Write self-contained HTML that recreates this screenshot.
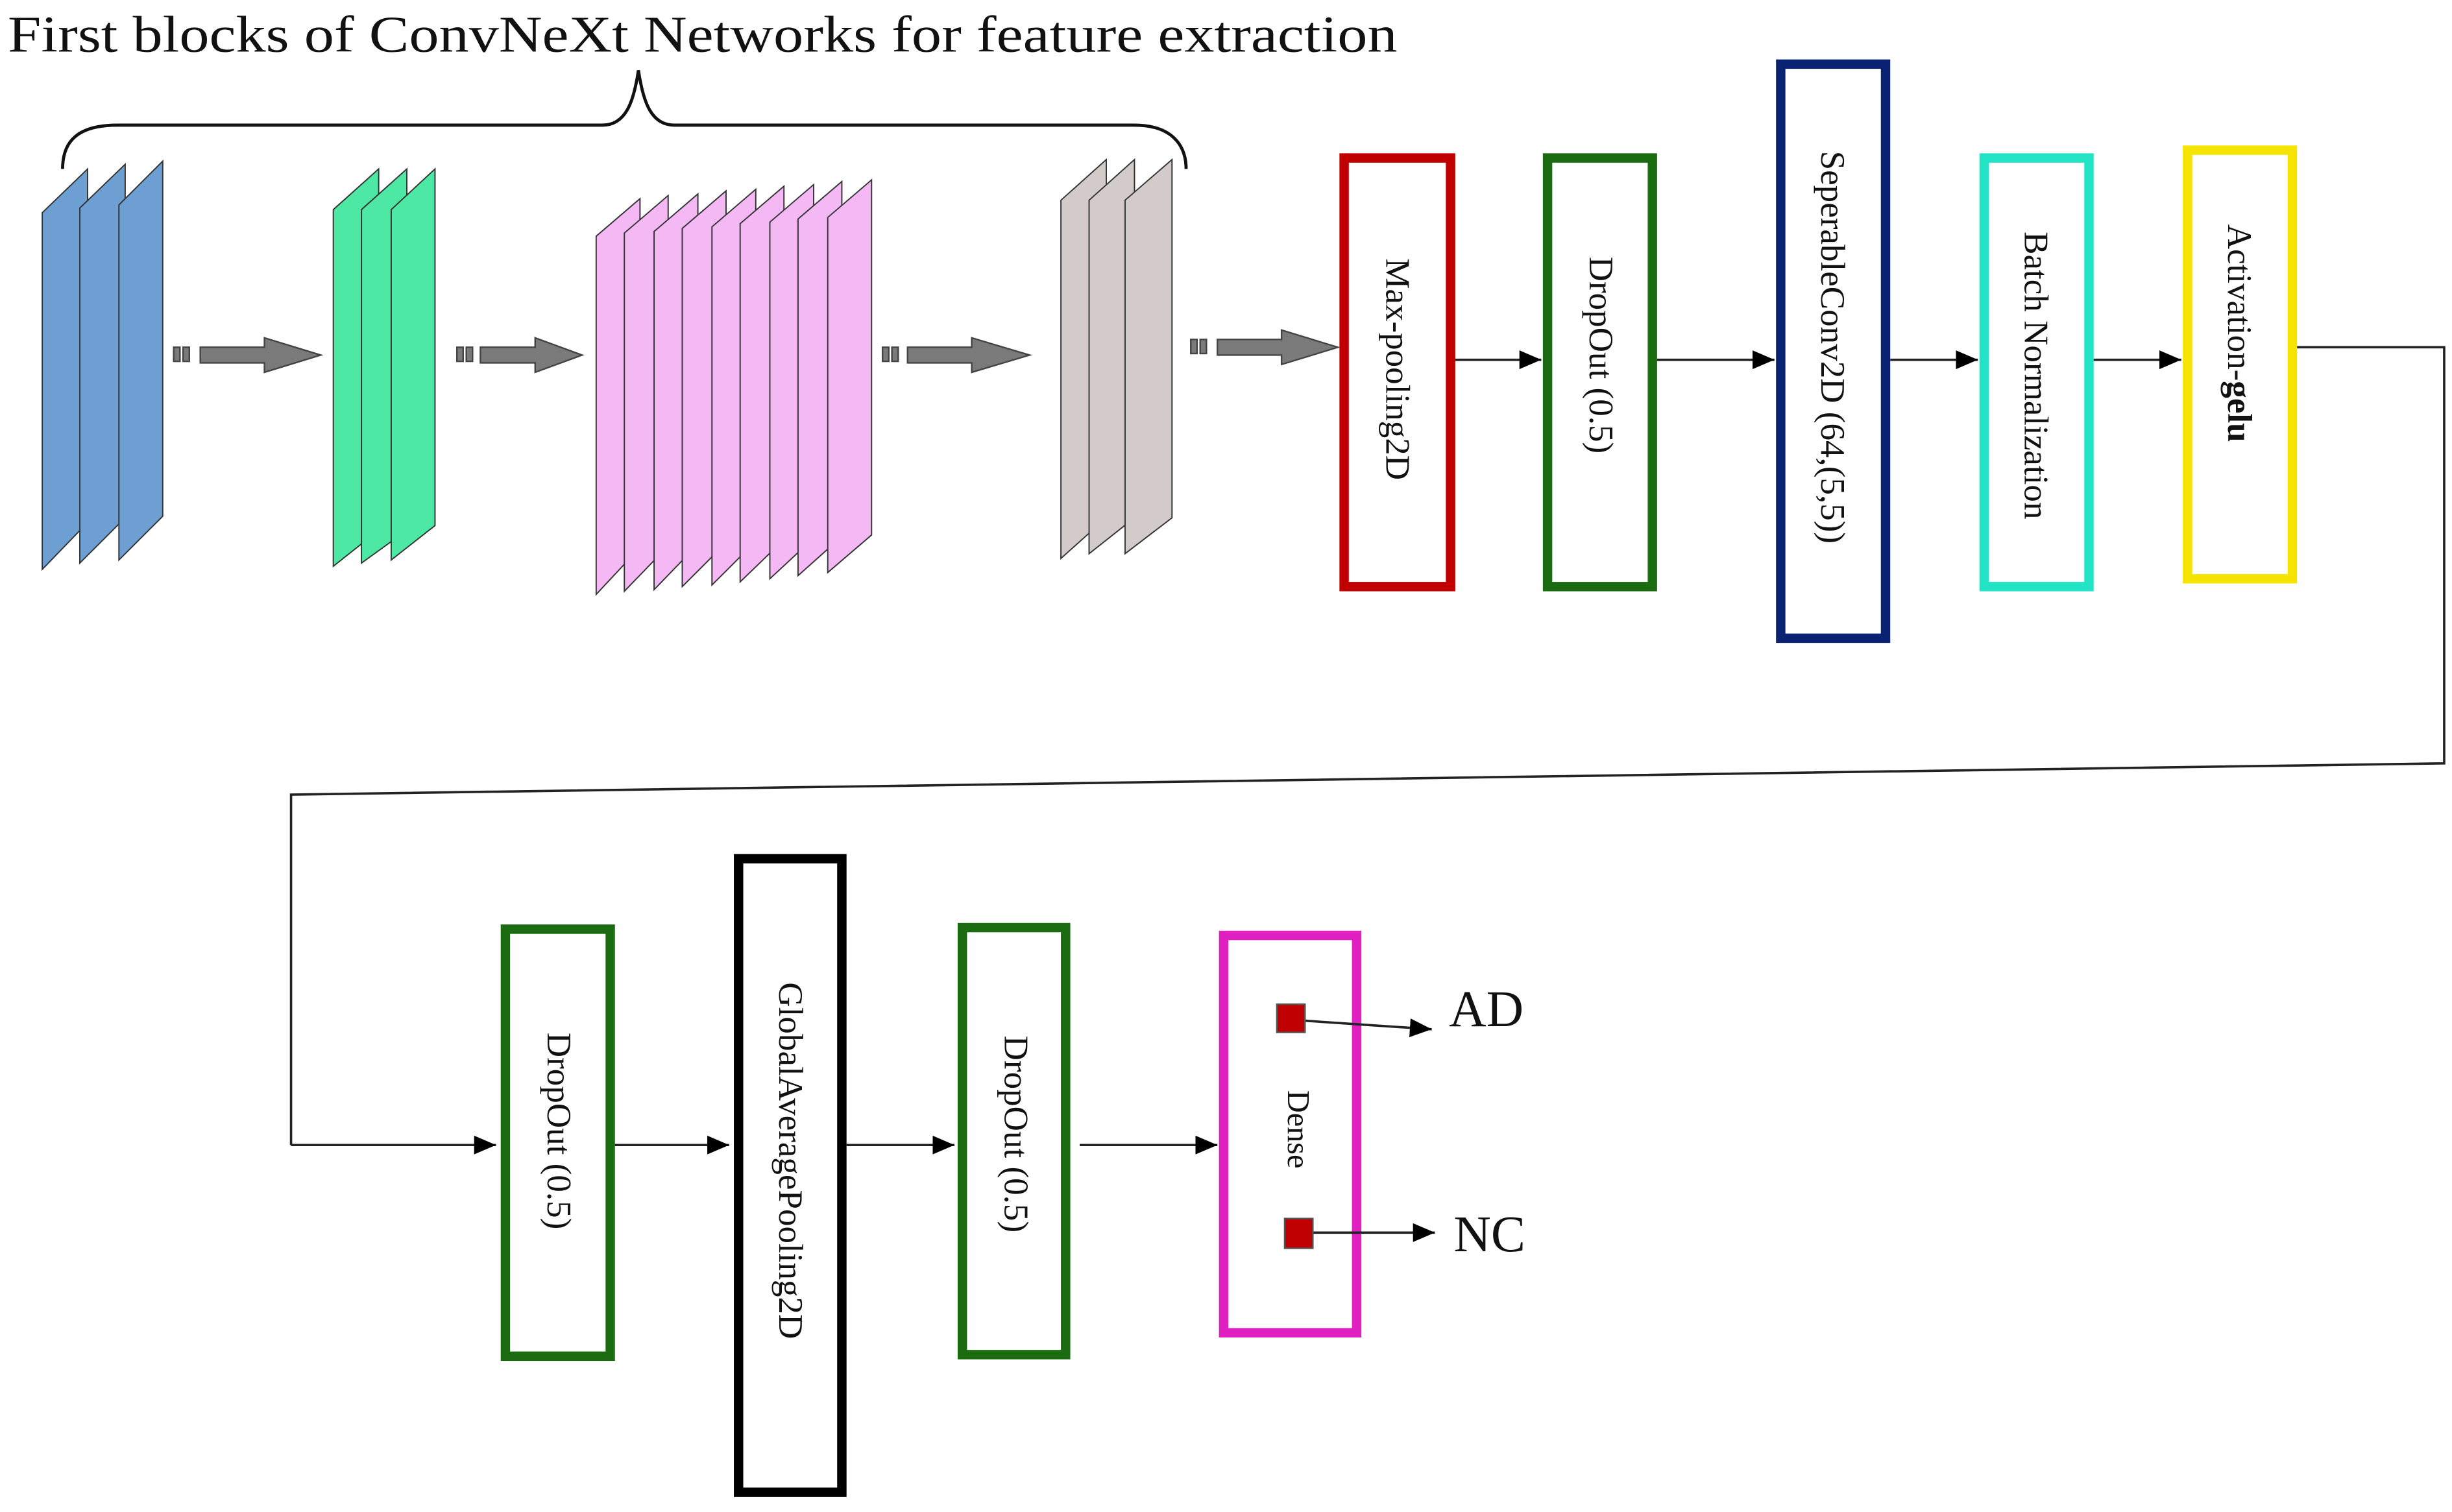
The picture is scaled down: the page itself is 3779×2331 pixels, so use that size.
<!DOCTYPE html>
<html><head><meta charset="utf-8"><style>
html,body{margin:0;padding:0;background:#fff}
svg{display:block}
.t{font-family:"Liberation Serif",serif;font-size:22px;fill:#111}
</style></head><body>
<svg width="3779" height="2331" viewBox="0 0 1567 966.6" preserveAspectRatio="none" xmlns="http://www.w3.org/2000/svg">
<defs>
<marker id="a2" viewBox="0 0 14 12" markerWidth="14" markerHeight="12" refX="14" refY="6" orient="auto" markerUnits="userSpaceOnUse"><path d="M0,0 L14,6 L0,12 z" fill="#000"/></marker>
</defs>
<text x="5" y="33" font-family="Liberation Serif, serif" font-size="33" fill="#111" textLength="888" lengthAdjust="spacingAndGlyphs">First blocks of ConvNeXt Networks for feature extraction</text>
<path d="M40,108 C40,90 50,80 75,80 L385,80 C400,80 405,65 408,45 C411,65 416,80 431,80 L725,80 C748,80 758,92 758,108" fill="none" stroke="#111" stroke-width="2"/>
<g stroke="#333" stroke-width="0.8">
<path d="M27,136 L56,108 L56,334 L27,364 z" fill="#6e9fd2"/>
<path d="M51,133 L80,105 L80,331 L51,360 z" fill="#6e9fd2"/>
<path d="M76,131 L104,103 L104,330 L76,358 z" fill="#6e9fd2"/>
<path d="M213,134 L242,108 L242,339 L213,362 z" fill="#4de8a4"/>
<path d="M231,134 L260,108 L260,339 L231,360 z" fill="#4de8a4"/>
<path d="M250,134 L278,108 L278,336 L250,358 z" fill="#4de8a4"/>
<path d="M381,151 L409,127 L409,350 L381,380 z" fill="#f4b8f4"/>
<path d="M399,149 L427,125 L427,349 L399,378 z" fill="#f4b8f4"/>
<path d="M418,148 L446,124 L446,348 L418,377 z" fill="#f4b8f4"/>
<path d="M436,146 L464,122 L464,347 L436,375 z" fill="#f4b8f4"/>
<path d="M455,145 L483,121 L483,346 L455,374 z" fill="#f4b8f4"/>
<path d="M473,143 L501,119 L501,345 L473,372 z" fill="#f4b8f4"/>
<path d="M492,142 L520,118 L520,344 L492,370 z" fill="#f4b8f4"/>
<path d="M510,140 L538,116 L538,343 L510,368 z" fill="#f4b8f4"/>
<path d="M529,139 L557,115 L557,342 L529,366 z" fill="#f4b8f4"/>
<path d="M678,128 L707,102 L707,331 L678,357 z" fill="#d3cbc9"/>
<path d="M696,128 L725,102 L725,331 L696,354 z" fill="#d3cbc9"/>
<path d="M719,128 L749,102 L749,331 L719,354 z" fill="#d3cbc9"/>
</g>
<g fill="#7a7a7a" stroke="#444" stroke-width="1">
<rect x="111" y="222" width="4" height="9"/><rect x="117" y="222" width="4" height="9"/>
<path d="M128,222 L169,222 L169,216 L205,227 L169,238 L169,232 L128,232 z"/>
<rect x="292" y="222" width="4" height="9"/><rect x="298" y="222" width="4" height="9"/>
<path d="M307,222 L342,222 L342,216 L372,227 L342,238 L342,232 L307,232 z"/>
<rect x="564" y="222" width="4" height="9"/><rect x="570" y="222" width="4" height="9"/>
<path d="M580,222 L621,222 L621,216 L658,227 L621,238 L621,232 L580,232 z"/>
<rect x="761" y="217" width="4" height="9"/><rect x="767" y="217" width="4" height="9"/>
<path d="M778,217 L819,217 L819,211 L855,222 L819,233 L819,227 L778,227 z"/>
</g>
<g fill="#fff" stroke-width="6">
<rect x="859" y="101" width="68" height="274" stroke="#c00000"/>
<rect x="989" y="101" width="67" height="274" stroke="#1b6b10"/>
<rect x="1138" y="41" width="67" height="367" stroke="#0a2272"/>
<rect x="1268" y="101" width="67" height="274" stroke="#22e4c4"/>
<rect x="1398" y="96" width="67" height="274" stroke="#f5e400"/>
<rect x="323" y="594" width="67" height="273" stroke="#1b6b10"/>
<rect x="472" y="549" width="66" height="405" stroke="#000"/>
<rect x="615" y="593" width="66" height="273" stroke="#1b6b10"/>
<rect x="782" y="598" width="85" height="254" stroke="#e020c0"/>
</g>
<g stroke="#222" stroke-width="1.5" fill="none">
<line x1="930" y1="230" x2="985" y2="230" marker-end="url(#a2)"/>
<line x1="1059" y1="230" x2="1134" y2="230" marker-end="url(#a2)"/>
<line x1="1208" y1="230" x2="1264" y2="230" marker-end="url(#a2)"/>
<line x1="1338" y1="230" x2="1394" y2="230" marker-end="url(#a2)"/>
<polyline points="1468,222 1562,222 1562,488 186,508 186,732"/>
<line x1="186" y1="732" x2="317" y2="732" marker-end="url(#a2)"/>
<line x1="393" y1="732" x2="466" y2="732" marker-end="url(#a2)"/>
<line x1="541" y1="732" x2="610" y2="732" marker-end="url(#a2)"/>
<line x1="690" y1="732" x2="778" y2="732" marker-end="url(#a2)"/>
<line x1="826" y1="652" x2="915" y2="658" marker-end="url(#a2)"/>
<line x1="830" y1="788" x2="917" y2="788" marker-end="url(#a2)"/>
</g>
<rect x="816" y="642" width="18" height="18" fill="#c00000" stroke="#555" stroke-width="1"/>
<rect x="821" y="779" width="18" height="19" fill="#c00000" stroke="#555" stroke-width="1"/>
<text x="926" y="656" font-family="Liberation Serif, serif" font-size="33" fill="#111">AD</text>
<text x="929" y="800" font-family="Liberation Serif, serif" font-size="33" fill="#111">NC</text>
<g class="t" text-anchor="middle">
<text transform="translate(886,236) rotate(90)">Max-pooling2D</text>
<text transform="translate(1016,227) rotate(90)">DropOut (0.5)</text>
<text transform="translate(1164,222) rotate(90)">SeperableConv2D (64,(5,5))</text>
<text transform="translate(1294,240) rotate(90)">Batch Normalization</text>
<text transform="translate(1424,213) rotate(90)">Activation-<tspan font-weight="bold">gelu</tspan></text>
<text transform="translate(350,723) rotate(90)">DropOut (0.5)</text>
<text transform="translate(498,742) rotate(90)">GlobalAveragePooling2D</text>
<text transform="translate(642,725) rotate(90)">DropOut (0.5)</text>
<text transform="translate(823,722) rotate(90)" font-size="20">Dense</text>
</g>
</svg>
</body></html>
